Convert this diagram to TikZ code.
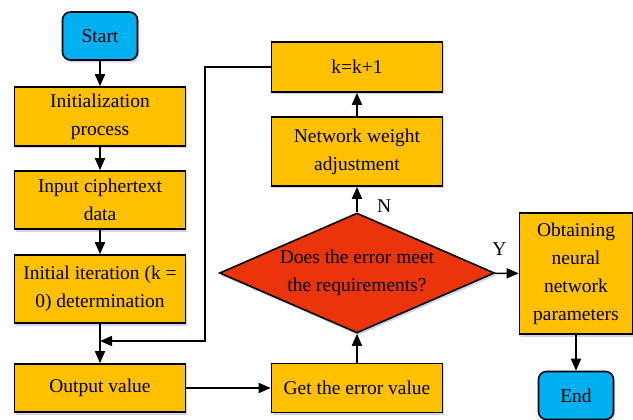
\documentclass[tikz,border=0pt]{standalone}
\usepackage{fontspec}
\setmainfont{Liberation Serif}
\usetikzlibrary{shapes.geometric,arrows.meta,shadows}
\definecolor{boxorange}{RGB}{255,192,0}
\definecolor{termblue}{RGB}{0,176,240}
\definecolor{checkred}{RGB}{233,52,12}
\begin{document}
\begin{tikzpicture}[x=1pt,y=-1pt,
    every node/.style={font=\fontsize{19.5}{28}\selectfont},
    softshadow/.style={drop shadow={shadow xshift=1.5pt,shadow yshift=-2.5pt,fill=blue!40!gray,opacity=0.25}},
    procbox/.style={draw,line width=1.6pt,fill=boxorange,align=center,minimum width=171pt,inner sep=2pt,softshadow},
    termbox/.style={draw,line width=1.6pt,fill=termblue,rounded corners=8pt,minimum width=75pt,minimum height=48pt,softshadow},
    checkbox/.style={draw,line width=1.6pt,fill=checkred,diamond,aspect=2.29,minimum width=275pt,minimum height=120pt,inner sep=0pt,align=center,softshadow},
    flow/.style={line width=1.6pt,-{Triangle[length=12pt,width=10pt]}}]
    \useasboundingbox (0,0) rectangle (633,420);
    \node[termbox] (start) at (100,36) {Start};
    \node[procbox,minimum height=59pt] (init) at (100,116.5) {Initialization\\process};
    \node[procbox,minimum height=58pt] (input) at (100,200) {Input ciphertext\\data};
    \node[procbox,minimum height=68pt] (iter) at (100,289) {Initial iteration (k =\\0) determination};
    \node[procbox,minimum height=48pt] (output) at (100,388) {Output value};
    \node[procbox,minimum height=49pt] (geterr) at (357,388) {Get the error value};
    \node[checkbox] (check) at (357,273) {Does the error meet\\the requirements?};
    \node[procbox,minimum height=69pt] (adjust) at (357,151.5) {Network weight\\adjustment};
    \node[procbox,minimum height=50pt] (kk) at (357,67) {k=k+1};
    \node[procbox,minimum width=113pt,minimum height=121pt,inner sep=0pt] (obtain) at (576,273.5) {Obtaining\\neural\\network\\parameters};
    \node[termbox] (end) at (576,395.5) {End};
    \coordinate (turn) at (205,67);
    \coordinate (merge) at (100,341);
    \draw [flow] (start) -- (init);
    \draw [flow] (init) -- (input);
    \draw [flow] (input) -- (iter);
    \draw [flow] (iter) -- (output);
    \draw [flow] (output) -- (geterr);
    \draw [flow] (geterr) -- (check);
    \draw [flow] (check) -- node [right=16pt,pos=0.25] {N} (adjust);
    \draw [flow] (adjust) -- (kk);
    \draw [flow] (kk.west) -- (turn) |- (merge);
    \draw [flow] (check) -- node [above=14pt,pos=0.2] {Y} (obtain);
    \draw [flow] (obtain) -- (end);
\end{tikzpicture}
\end{document}
